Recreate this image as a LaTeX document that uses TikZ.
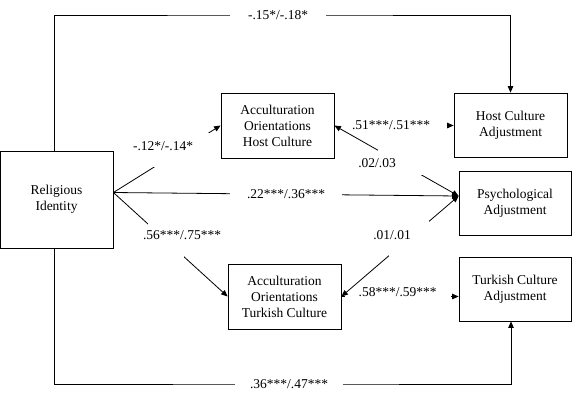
\documentclass[tikz,border=0pt]{standalone}
\usepackage{fontspec}
\setmainfont{Liberation Serif}
\usetikzlibrary{arrows.meta}

\begin{document}
\begin{tikzpicture}[x=1pt,y=-1pt,line width=0.8pt,
  font=\fontsize{13.5}{16}\selectfont,
  box/.style={draw,align=center,minimum width=113pt,minimum height=65pt,inner sep=0pt},
  arr/.style={-{Triangle[length=6.5pt,width=5.5pt]}},
  twoway/.style={{Triangle[length=6.5pt,width=5.5pt]}-{Triangle[length=6.5pt,width=5.5pt]}},
  gap/.style={fill=white,inner sep=0pt},
  coef/.style={fill=white,inner sep=1pt}]

\useasboundingbox (0,0) rectangle (572,405);

% boxes
\node[box,minimum height=97pt] (rel) at (56.5,199.5) {Religious\\Identity};
\node[box] (aoh) at (277.5,125.5) {Acculturation\\Orientations\\Host Culture};
\node[box] (aot) at (284.5,296.5) {Acculturation\\Orientations\\Turkish Culture};
\node[box,minimum height=64pt] (hadj) at (510.5,125) {Host Culture\\Adjustment};
\node[box,minimum width=112pt,minimum height=64pt] (psy) at (515,203) {Psychological\\Adjustment};
\node[box,minimum width=112pt,minimum height=64pt] (tadj) at (515,289) {Turkish Culture\\Adjustment};

\coordinate (relout) at ([yshift=7pt]rel.east);
\coordinate (psyin) at ([yshift=7pt]psy.west);
\coordinate (top) at (278,15);
\coordinate (bot) at (289,384);

% direct paths round the outside
\draw[arr] ([xshift=-2.5pt]rel.north) |- (top) -| (hadj.north);
\node[coef,inner xsep=18pt] (c15) at (top) {-.15*/-.18*};
\draw[arr] ([xshift=-2.5pt]rel.south) |- (bot) -| ([xshift=-4pt]tadj.south);
\node[coef,inner xsep=15pt] (c36) at (bot) {.36***/.47***};

% from religious identity
\draw[arr] (relout) -- node[gap,pos=.64,minimum width=58pt,minimum height=34pt] (g12) {} (aoh.west);
\draw[arr] (relout) -- node[coef,minimum width=112pt] (c22) {.22***/.36***} (psyin);
\draw[arr] (relout) -- node[gap,pos=.46,minimum width=36pt,minimum height=35pt] (g56) {} (aot.west);

% orientations to adjustment
\draw[arr] (aoh.east) -- node[coef,pos=.475,minimum width=112pt] (c51) {.51***/.51***} (aoh.east -| hadj.west);
\draw[arr] (aot.east) -- node[coef,pos=.48,minimum width=106pt,yshift=4pt] (c58) {.58***/.59***} (aot.east -| tadj.west);
\draw[twoway] (aoh.east) -- node[gap,pos=.53,minimum width=45pt,minimum height=25pt] (g02) {} (psyin);
\draw[twoway] (aot.east) -- node[gap,pos=.58,minimum width=40pt,minimum height=35pt] (g01) {} (psyin);

\node (c12) at (163,146) {-.12*/-.14*};
\node (c56) at (182,235) {.56***/.75***};
\node (c02) at (377,163) {.02/.03};
\node (c01) at (392,235) {.01/.01};

\end{tikzpicture}
\end{document}
